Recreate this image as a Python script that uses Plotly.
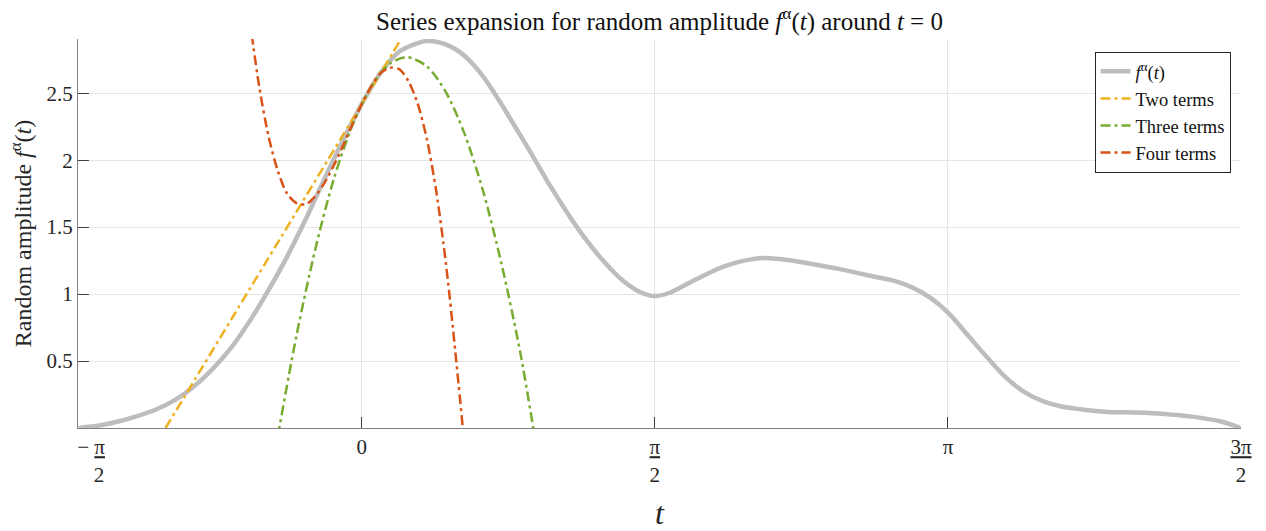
import math
import plotly.graph_objects as go

# ---------------- data ----------------
# exact amplitude f^alpha(t)
t_f = [-1.517, -1.40, -1.30, -1.20, -1.10, -1.00, -0.90, -0.80, -0.70, -0.60,
       -0.50, -0.40, -0.30, -0.20, -0.10, 0.0, 0.10, 0.20, 0.30, 0.35,
       0.40, 0.45, 0.50, 0.55, 0.60, 0.65, 0.70, 0.75, 0.80, 0.90,
       1.00, 1.10, 1.20, 1.30, 1.40, 1.50, 1.571, 1.65, 1.75, 1.85,
       1.95, 2.05, 2.16, 2.25, 2.35, 2.45, 2.55, 2.65, 2.75, 2.85,
       2.95, 3.05, 3.15, 3.25, 3.35, 3.45, 3.55, 3.65, 3.75, 3.85,
       4.00, 4.15, 4.30, 4.45, 4.60, 4.712]
y_f = [0.00, 0.02, 0.05, 0.09, 0.14, 0.21, 0.31, 0.44, 0.60, 0.80,
       1.03, 1.28, 1.56, 1.86, 2.15, 2.42, 2.65, 2.81, 2.875, 2.89,
       2.885, 2.865, 2.83, 2.78, 2.71, 2.625, 2.525, 2.415, 2.30, 2.07,
       1.83, 1.61, 1.41, 1.24, 1.10, 1.01, 0.985, 1.01, 1.08, 1.15,
       1.21, 1.25, 1.27, 1.26, 1.24, 1.215, 1.19, 1.16, 1.13, 1.10,
       1.05, 0.97, 0.85, 0.69, 0.53, 0.38, 0.27, 0.20, 0.16, 0.14,
       0.12, 0.115, 0.105, 0.085, 0.05, 0.0]

# two-term expansion
t_two = [-1.052, 0.0, 0.215]
y_two = [0.0, 2.42, 2.915]

# three-term expansion
t_three = [-0.45, -0.35, -0.25, -0.15, -0.05, 0.05, 0.15, 0.241, 0.35, 0.45,
           0.55, 0.65, 0.75, 0.85, 0.925]
y_three = [-0.06, 0.69, 1.33, 1.86, 2.26, 2.55, 2.72, 2.77, 2.70, 2.51,
           2.20, 1.77, 1.22, 0.56, -0.05]

# four-term expansion
t_four = [-0.59, -0.55, -0.50, -0.45, -0.40, -0.35, -0.30, -0.25, -0.20, -0.15,
          -0.10, -0.05, 0.0, 0.05, 0.10, 0.15, 0.20, 0.25, 0.30, 0.35,
          0.40, 0.45, 0.50, 0.545]
y_four = [2.94, 2.55, 2.18, 1.92, 1.75, 1.68, 1.67, 1.73, 1.83, 1.96,
          2.11, 2.27, 2.42, 2.55, 2.65, 2.69, 2.68, 2.59, 2.42, 2.15,
          1.76, 1.24, 0.59, -0.05]

series_names = ["<i>f</i><sup>α</sup>(<i>t</i>)", "Two terms", "Three terms", "Four terms"]
series_colors = ["#bdbdbd", "#EDB120", "#77AC30", "#D95319"]

x_range = [-1.521, 1.5 * math.pi]
y_range = [0.0, 2.905]

x_tick_vals = [-1.521, 0.0, math.pi / 2, math.pi, 1.5 * math.pi]
U = '<span style="text-decoration:underline">π</span>'
x_tick_text = [
    "&nbsp;&nbsp;&nbsp;&nbsp;&nbsp;− " + U + "<br>&nbsp;&nbsp;&nbsp;&nbsp;&nbsp;&nbsp;&nbsp;&nbsp;2",
    "0",
    U + "<br>2",
    "π",
    '<span style="text-decoration:underline">3π</span><br>2',
]
y_tick_vals = [0.5, 1.0, 1.5, 2.0, 2.5]
y_tick_text = ["0.5", "1", "1.5", "2", "2.5"]

FONT = "Liberation Serif"
TXT = "#262626"

fig = go.Figure()
xs = [t_f, t_two, t_three, t_four]
ys = [y_f, y_two, y_three, y_four]
widths = [4.5, 2.5, 2.5, 2.5]
dashes = ["solid", "10px,4px,3px,4px", "10px,4px,3px,4px", "10px,4px,3px,4px"]
for x, y, n, c, w, d in zip(xs, ys, series_names, series_colors, widths, dashes):
    fig.add_trace(go.Scatter(x=x, y=y, mode="lines", name=n,
                             line=dict(color=c, width=w, dash=d, shape="spline", smoothing=0.8)))

fig.update_layout(
    width=1266, height=531,
    margin=dict(l=78, r=25, t=39, b=103, pad=0, autoexpand=False),
    plot_bgcolor="white", paper_bgcolor="white",
    font=dict(family=FONT, size=20, color=TXT),
    title=dict(text="Series expansion for random amplitude <i>f</i><sup>α</sup>(<i>t</i>) around <i>t</i> = 0",
               x=0.5, xanchor="center", xref="paper", y=1 - 21 / 531, yanchor="middle",
               font=dict(family=FONT, size=25, color="#111")),
    legend=dict(x=0.991, xanchor="right", y=0.967, yanchor="top",
                bgcolor="white", bordercolor="#262626", borderwidth=1,
                font=dict(family=FONT, size=18.5, color="#111"), tracegroupgap=0),
    showlegend=True,
)
fig.update_xaxes(range=x_range, tickvals=x_tick_vals, ticktext=x_tick_text, automargin=False,
                 ticks="inside", ticklen=11, tickcolor="#404040", tickwidth=1,
                 showline=True, linecolor="#808080", linewidth=1,
                 showgrid=True, gridcolor="#e5e5e5", gridwidth=1, zeroline=False,
                 tickfont=dict(family=FONT, size=21, color=TXT),
                 title=dict(text="<i>t</i>", font=dict(family=FONT, size=32, color=TXT), standoff=20))
fig.update_yaxes(range=y_range, tickvals=y_tick_vals, ticktext=y_tick_text, automargin=False,
                 ticks="inside", ticklen=11, tickcolor="#404040", tickwidth=1,
                 showline=True, linecolor="#808080", linewidth=1,
                 showgrid=True, gridcolor="#e5e5e5", gridwidth=1, zeroline=False,
                 tickfont=dict(family=FONT, size=21, color=TXT),
                 title=dict(text="Random amplitude <i>f</i><sup>α</sup>(<i>t</i>)",
                            font=dict(family=FONT, size=24, color=TXT), standoff=8))

fig.write_html("out.html")
